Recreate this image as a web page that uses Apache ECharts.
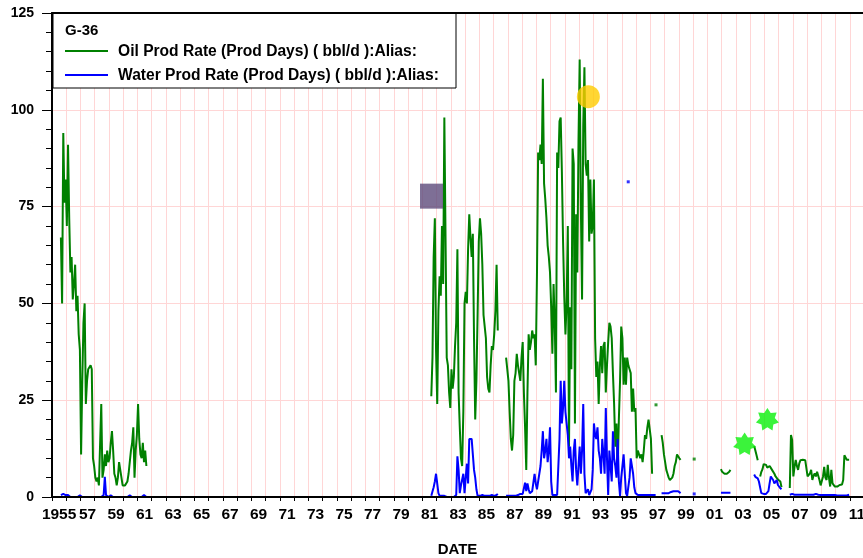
<!DOCTYPE html>
<html>
<head>
<meta charset="utf-8">
<script src="https://cdn.jsdelivr.net/npm/echarts@6/dist/echarts.min.js"></script>
<style>
html,body{margin:0;padding:0;background:#fff;}
#chart{width:863px;height:558px;}
</style>
</head>
<body>
<div id="chart"></div>
<script>
// ---------- DATA (monthly rates, bbl/d) ----------
const title = 'G-36';
const oilName = 'Oil Prod Rate (Prod Days) ( bbl/d ):Alias:';
const waterName = 'Water Prod Rate (Prod Days) ( bbl/d ):Alias:';
const xTitle = 'DATE';
const yTicks = [0, 25, 50, 75, 100, 125];

// segment start dates (decimal years)
const startA = 1955.625, startB = 1981.625, startC = 1986.875, startD = 1997.79,
      startE = 2001.958, startF1 = 2004.29, startF2 = 2004.71, startG = 2006.79;

const oilA = [67,50,94,76,82,70,91,72,58,62,51,55,60,48,52,42,38,11,30,45,50,24,30,33,33,34,33,10,8,5,4,5,3,3,24,5,7,11,8,12,9,10,14,17,12,6,5,3,5,9,7,5,3,3,3,3,4,6,9,12,14,18,5,12,16,24,15,11,10,14,9,12,8];
const oilB = [26,36,62,72,38,24,48,57,52,70,55,98,67,36,34,27,23,33,28,31,39,45,64,27,18,10,8,22,50,53,50,64,73,67,62,68,41,20,30,47,66,72,68,60,47,44,41,31,28,27,34,39,38,42,48,60,43];
const oilC = [36,33,30,22,15,12,16,30,32,37,
  34,32,30,36,40,27,18,7,27,42,
  38,40,43,41,42,34,57,89,87,91,
  86,108,81,77,72,65,62,58,49,37,
  55,45,27,89,85,97,98,84,66,52,
  42,50,70,13,49,33,90,86,19,73,
  58,92,113,75,51,96,111,86,83,87,
  66,82,68,70,82,41,31,35,24,34,
  39,32,39,40,27,34,40,45,44,41,
  32,24,13,19,7,20,30,44,41,29,
  36,29,36,34,33,32,22,28,22,23,
  10,12,11,10,11,9,12,16,15,18,
  20,20,15,6];
const oilD = [16,14,11,9,7,6,5,4.4,4.5,5,6,8,9,11,10.5,10,9.6];
const oilE = [7.2,6.5,6.2,6.0,6.0,6.0,6.2,6.5,7.0];
const oilF1 = [13.2,12,10.8,9.5];
const oilF2 = [5.3,6.5,7.2,8.5,8.6,8.3,7.6,7.8,8.0,7.5,7.0,6.5,6.0,5.3,5.6,4.5,4.4,4.0,2.5];
const oilG = [2.3,16,14.7,5.3,7.8,9.6,8,7,8.7,9.5,10,9.6,10,9.5,9.1,5.3,5.8,6.1,7,4.4,5.5,6.1,5.3,6.5,7,4.4,3,2.7,5.3,7.8,5,4.4,8.3,5,2.7,7,3.5,3,2.7,2.7,2.7,2.7,3.1,3.1,3.2,4.4,10.8,10.4,9.6,9.7,9.6];

const waterA = [0.5,0.6,0.8,0.6,0.5,0.4,0.5,0.4,0,0,0,0,0,0,0,0,0.4,0,0,0,0,0,0,0,0,0,0,0,0,0,0,0,0,0,0,0,0.5,5.2,0.5,0,0,0,0.4,0,0,0,0,0,0,0,0,0,0,0,0,0,0,0,0.4,0,0,0,0,0.4,0,0,0,0,0,0.4,0.5,0.4,0];
const waterB = [0.3,0.5,2.5,4,6,5.5,1,0.3,0.3,0.3,0.3,0.3,0.3,0,0,0,0,0,0,0,0,0.5,10.5,7,1,3,3,6,1,5,8.6,3.5,15,15,15,15,7,5,2,0.3,0.5,0.3,0.3,0.5,0.3,0.3,0.5,0.3,0.3,0.3,0.3,0.5,0.3,0.3,0.3,0.5,0.8];
const waterC = [0.3,0.3,0.3,0.3,0.3,0.3,0.3,0.3,0.3,0.5,
  0.5,0.8,0.8,0.8,0.8,1,3.7,1.5,3.5,2,
  1,1.5,1.5,2,6,3.5,2,4,6,8,
  12,17,10,12,15,9,12,18,4,0.5,
  0.5,0.5,0.5,0.5,0.5,15,30,19,23,30,
  22,19,16,10,13,8,4,12,15,7,
  3,8,13,6,12,24,6,1,0.5,2,
  0.5,1,2,7,19,16,15,18,12,10,
  6,15,11,6,23,10,0.5,12,8,4,
  17,10,8,5,15,4,0.3,5,8,11,
  6,1,0.3,0.3,5,10,8,6,2.5,1,
  0.5,0.5,0.5,0.5,0.5,0.5,0.5,0.5,0.5,0.5,
  0.5,0.5,0.5,0.5,0.5,0.5,0.5];
const waterD = [1,1,1,1,1,1,1,1.2,1.3,1.5,1.5,1.5,1.5,1.2,1.5,1.0,1.0];
const waterE = [1.1,1.1,1.1,1.1,1.1,1.1,1.1,1.1,1.1];
const waterF = [5.8,5.2,5.4,4.8,4.0,3.5,1.0,0.8,0.8,0.8,0.8,0.8,1.5,3.5,5.3,5.0,4.4,3.5,4.0,4.4,3.1,2.8,2.3,2.0];
const waterG = [0.6,1.0,0.8,0.6,0.6,0.6,0.6,0.6,0.6,0.6,0.6,0.6,0.6,0.6,0.6,0.6,0.6,0.6,0.6,0.6,0.6,1.0,0.8,0.6,0.6,0.6,0.5,0.5,0.5,0.5,0.5,0.5,0.5,0.5,0.5,0.5,0.5,0.5,0.5,0.4,0.4,0.4,0.4,0.4,0.4,0.4,0.4,0.4,0.4,0.4,0.6];

// isolated single readings [year, value]
const oilDots = [[1997.40, 23.8], [2000.08, 9.8]];
const waterDots = [[1995.45, 81.4], [2000.08, 0.8]];

// annotation markers [year, value]
const squareMarker = [[1981.64, 77.7]];
const circleMarker = [[1992.65, 103.4]];
const starMarkers = [[2003.62, 13.75], [2005.22, 20.1]];

// ---------- BUILD ----------
const XMIN = 1955, XMAX = 2011.93;
function build(segs){
  const out = [];
  segs.forEach(function(s, si){
    const start = s[0], vals = s[1];
    if (si > 0) out.push([start - 1/24, '-']);
    vals.forEach(function(v, i){ out.push([start + i/12, v]); });
  });
  return out;
}
const oilData = build([[startA, oilA],[startB, oilB],[startC, oilC],[startD, oilD],[startE, oilE],[startF1, oilF1],[startF2, oilF2],[startG, oilG]]);
const waterData = build([[startA, waterA],[startB, waterB],[startC, waterC],[startD, waterD],[startE, waterE],[startF1, waterF],[startG, waterG]]);

function starPath(){
  let d = '';
  for (let k = 0; k < 14; k++){
    const a = -Math.PI/2 + k*Math.PI/7;
    const r = (k % 2 === 0) ? 50 : 32;
    const x = (50 + r*Math.cos(a)).toFixed(2), y = (50 + r*Math.sin(a)).toFixed(2);
    d += (k === 0 ? 'M' : 'L') + x + ' ' + y + ' ';
  }
  return 'path://' + d + 'Z';
}

const FONT = 'Liberation Sans, Arial, sans-serif';
const chart = echarts.init(document.getElementById('chart'), null, {renderer:'canvas'});
chart.setOption({
  animation: false,
  backgroundColor: '#fff',
  grid: {left: 52, top: 13, right: 0, bottom: 61, show: true, borderWidth: 0, backgroundColor: '#fff',
         containLabel: false, outerBoundsMode: 'none'},
  xAxis: [
    {type: 'value', min: XMIN, max: XMAX, interval: 1,
     axisLine: {show: false}, axisLabel: {show: false},
     axisTick: {show: true, length: 4, lineStyle: {color: '#000', width: 1}},
     splitLine: {show: true, lineStyle: {color: '#ffd6d6', width: 1}}},
    {type: 'value', min: XMIN, max: XMAX, interval: 0.5, position: 'bottom', z: 10,
     axisLine: {show: true, lineStyle: {color: '#000', width: 2}},
     axisTick: {show: false}, splitLine: {show: false},
     axisLabel: {margin: 10, color: '#000', fontFamily: FONT, fontWeight: 'bold', fontSize: 15.5,
       formatter: function(v){
         const h = Math.round(v*2)/2;
         if (Math.abs(h % 1 - 0.5) > 0.01) return '';
         const yr = Math.floor(h);
         if ((yr - 1955) % 2 !== 0) return '';
         return yr === 1955 ? '1955' : String(yr % 100).padStart(2, '0');
       }},
     name: xTitle, nameLocation: 'middle', nameGap: 45,
     nameTextStyle: {color: '#000', fontFamily: FONT, fontWeight: 'bold', fontSize: 15}},
    {type: 'value', min: XMIN, max: XMAX, position: 'top', z: 10,
     axisLine: {show: true, lineStyle: {color: '#000', width: 2}},
     axisTick: {show: false}, axisLabel: {show: false}, splitLine: {show: false}}
  ],
  yAxis: {type: 'value', min: yTicks[0], max: yTicks[yTicks.length-1], interval: 25,
    axisLine: {show: true, lineStyle: {color: '#000', width: 2}},
    axisTick: {show: true, length: 10, lineStyle: {color: '#000', width: 1}},
    minorTick: {show: true, splitNumber: 5, length: 6, lineStyle: {color: '#000', width: 1}},
    axisLabel: {margin: 18, color: '#000', fontFamily: FONT, fontWeight: 'bold', fontSize: 14},
    splitLine: {show: true, lineStyle: {color: '#ffd6d6', width: 1}}},
  series: [
    {type: 'line', name: 'oil', data: oilData, xAxisIndex: 0, showSymbol: false, symbol: 'none',
     connectNulls: false, lineStyle: {color: '#008000', width: 2}, itemStyle: {color: '#008000'}},
    {type: 'line', name: 'water', data: waterData, xAxisIndex: 0, showSymbol: false, symbol: 'none',
     connectNulls: false, lineStyle: {color: '#0000ff', width: 2}, itemStyle: {color: '#0000ff'}},
    {type: 'scatter', data: oilDots, xAxisIndex: 0, symbol: 'rect', symbolSize: 3, itemStyle: {color: '#008000'}},
    {type: 'scatter', data: waterDots, xAxisIndex: 0, symbol: 'rect', symbolSize: 3, itemStyle: {color: '#0000ff'}},
    {type: 'scatter', data: squareMarker, xAxisIndex: 0, symbol: 'rect', symbolSize: [23, 25], itemStyle: {color: '#5e4b7c'}, z: 5},
    {type: 'scatter', data: circleMarker, xAxisIndex: 0, symbol: 'circle', symbolSize: 23, itemStyle: {color: '#ffcc00'}, z: 5},
    {type: 'scatter', data: starMarkers, xAxisIndex: 0, symbol: starPath(), symbolKeepAspect: true, symbolSize: 23, itemStyle: {color: '#0af00a'}, z: 5}
  ],
  graphic: [
    {type: 'rect', z: 100, shape: {x: 53, y: 13, width: 403, height: 75}, style: {fill: '#fff', stroke: '#000', lineWidth: 1}},
    {type: 'line', z: 101, shape: {x1: 52, y1: 13, x2: 456, y2: 13}, style: {stroke: '#000', lineWidth: 2}},
    {type: 'text', z: 101, x: 65, y: 31, style: {text: title, fill: '#000', font: 'bold 15px ' + FONT, textVerticalAlign: 'middle'}},
    {type: 'line', z: 101, shape: {x1: 65, y1: 51, x2: 108, y2: 51}, style: {stroke: '#008000', lineWidth: 2}},
    {type: 'text', z: 101, x: 118, y: 52, style: {text: oilName, fill: '#000', font: 'bold 15.6px ' + FONT, textVerticalAlign: 'middle'}},
    {type: 'line', z: 101, shape: {x1: 65, y1: 75, x2: 108, y2: 75}, style: {stroke: '#0000ff', lineWidth: 2}},
    {type: 'text', z: 101, x: 118, y: 76, style: {text: waterName, fill: '#000', font: 'bold 15.6px ' + FONT, textVerticalAlign: 'middle'}}
  ]
});
</script>
</body>
</html>
